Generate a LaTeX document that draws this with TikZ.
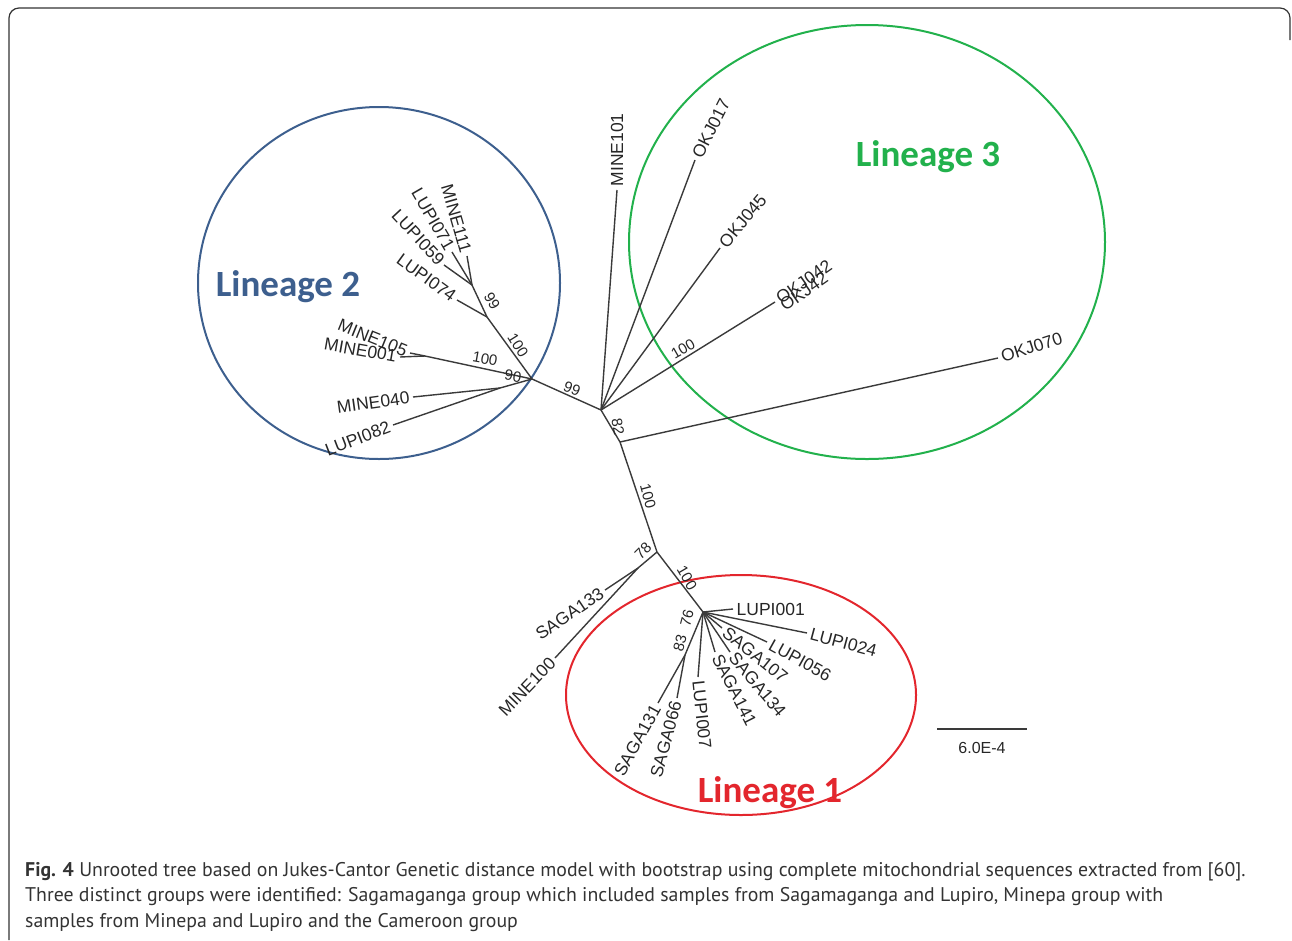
\documentclass[tikz,border=0pt]{standalone}
\usepackage{fontspec}
\setmainfont{Liberation Sans}
\newfontfamily\capfont{PT Sans}
\newfontfamily\linfont{Carlito}
\usetikzlibrary{positioning}
\definecolor{linone}{HTML}{E3262D}
\definecolor{lintwo}{HTML}{3D5F8E}
\definecolor{linthree}{HTML}{22B14C}
\definecolor{branchgray}{HTML}{3A3A3A}

\begin{document}
\begin{tikzpicture}[x = 1pt, y = -1pt,
    tip/.style = {font = \fontsize{17.5}{17.5}\selectfont, text = black!85, inner sep = 3.5pt},
    boot/.style = {font = \fontsize{15}{15}\selectfont, text = black!85, inner sep = 0pt},
    branch/.style = {draw = branchgray, line width = 1.4pt},
    lineage/.style = {font = \linfont\bfseries\fontsize{37}{37}\selectfont},
    ring/.style = {line width = 2pt},
    capline/.style = {anchor = base west, inner sep = 0pt, text = black!80, font = \capfont\fontsize{19.8}{25}\selectfont},
    ]
    \useasboundingbox (0,0) rectangle (1292,940);
    \draw[rounded corners = 10pt, line width = 1.2pt, black!80] (9,940) -- (9,8) -- (1290,8) -- (1290,40);

    % groups
    \draw[ring, lintwo] (379,283) ellipse [x radius = 181pt, y radius = 176pt];
    \draw[ring, linthree] (867,242) ellipse [x radius = 238pt, y radius = 217pt];
    \draw[ring, linone] (741,695) ellipse [x radius = 175pt, y radius = 120pt];
    \node[lineage, text = lintwo] (lin2) at (288,287) {Lineage 2};
    \node[lineage, text = linthree] (lin3) at (928,157) {Lineage 3};
    \node[lineage, text = linone] (lin1) at (770,793) {Lineage 1};

    % internal nodes
    \coordinate (A) at (601,410);
    \coordinate (H) at (620,442);
    \coordinate (K) at (657,552);
    \coordinate (L) at (638,568);
    \coordinate (D) at (703,612);
    \coordinate (I) at (685,655);
    \coordinate (B) at (532,379);
    \coordinate (E) at (487,317);
    \coordinate (G) at (472,285);
    \coordinate (M) at (425,356);
    \coordinate (F) at (500,388);

    % tips, lineage 3
    \node[tip, anchor = west, rotate = 90] (mine101) at (617,190) {MINE101};
    \node[tip, anchor = west, rotate = 63] (okj017) at (695,160) {OKJ017};
    \node[tip, anchor = west, rotate = 50] (okj045) at (720,248) {OKJ045};
    \node[tip, anchor = west, rotate = 35] (okj042) at (775,302) {OKJ042};
    \node[tip, anchor = west, rotate = 35] (okj42) at (779,309) {OKJ42};
    \node[tip, anchor = west, rotate = 18] (okj070) at (998,358) {OKJ070};

    % tips, lineage 2
    \node[tip, anchor = east, rotate = -74] (mine111) at (467,256) {MINE111};
    \node[tip, anchor = east, rotate = -60] (lupi071) at (452,252) {LUPI071};
    \node[tip, anchor = east, rotate = -47] (lupi059) at (444,265) {LUPI059};
    \node[tip, anchor = east, rotate = -36] (lupi074) at (457,300) {LUPI074};
    \node[tip, anchor = east, rotate = -22] (mine105) at (410,353) {MINE105};
    \node[tip, anchor = east, rotate = -10] (mine001) at (400,357) {MINE001};
    \node[tip, anchor = east, rotate = 8] (mine040) at (413,397) {MINE040};
    \node[tip, anchor = east, rotate = 21] (lupi082) at (393,425) {LUPI082};

    % tips, lineage 1 and the rest
    \node[tip, anchor = east, rotate = 34] (saga133) at (605,590) {SAGA133};
    \node[tip, anchor = east, rotate = 46] (mine100) at (555,658) {MINE100};
    \node[tip, anchor = west] (lupi001) at (733,609) {LUPI001};
    \node[tip, anchor = west, rotate = -15] (lupi024) at (807,633) {LUPI024};
    \node[tip, anchor = west, rotate = -29] (lupi056) at (767,642) {LUPI056};
    \node[tip, anchor = west, rotate = -39] (saga107) at (722,628) {SAGA107};
    \node[tip, anchor = west, rotate = -50] (saga134) at (730,652) {SAGA134};
    \node[tip, anchor = west, rotate = -63] (saga141) at (715,652) {SAGA141};
    \node[tip, anchor = west, rotate = -84] (lupi007) at (698,677) {LUPI007};
    \node[tip, anchor = east, rotate = 75] (saga066) at (677,698) {SAGA066};
    \node[tip, anchor = east, rotate = 61] (saga131) at (658,703) {SAGA131};

    % branches
    \draw[branch] (B) -- (A) -- (H) -- (K) -- (D);
    \draw[branch] (A) -- (mine101.west);
    \draw[branch] (A) -- (okj017.west);
    \draw[branch] (A) -- (okj045.west);
    \draw[branch] (A) -- (okj042.west);
    \draw[branch] (H) -- (okj070.west);
    \draw[branch] (B) -- (E) -- (G) -- (mine111.east);
    \draw[branch] (G) -- (lupi071.east);
    \draw[branch] (G) -- (lupi059.east);
    \draw[branch] (E) -- (lupi074.east);
    \draw[branch] (B) -- (M) -- (mine105.east);
    \draw[branch] (M) -- (mine001.east);
    \draw[branch] (B) -- (F) -- (mine040.east);
    \draw[branch] (F) -- (lupi082.east);
    \draw[branch] (K) -- (L) -- (saga133.east);
    \draw[branch] (L) -- (mine100.east);
    \draw[branch] (D) -- (lupi001.west);
    \draw[branch] (D) -- (lupi024.west);
    \draw[branch] (D) -- (lupi056.west);
    \draw[branch] (D) -- (saga107.west);
    \draw[branch] (D) -- (saga134.west);
    \draw[branch] (D) -- (saga141.west);
    \draw[branch] (D) -- (lupi007.west);
    \draw[branch] (D) -- (I) -- (saga066.east);
    \draw[branch] (I) -- (saga131.east);

    % bootstrap values
    \node[boot, rotate = -60] (bE) at (492,301) {99};
    \node[boot, rotate = -58] (bEB) at (518,345) {100};
    \node[boot, rotate = -10] (bM) at (485,359) {100};
    \node[boot, rotate = -10] (bF) at (513,376) {90};
    \node[boot, rotate = -22] (bB) at (572,389) {99};
    \node[boot, rotate = 30] (bO) at (683,349) {100};
    \node[boot, rotate = -80] (bH) at (618,427) {82};
    \node[boot, rotate = -75] (bK) at (648,496) {100};
    \node[boot, rotate = 45] (bL) at (643,551) {78};
    \node[boot, rotate = -60] (bD) at (687,578) {100};
    \node[boot, rotate = 75] (bD2) at (687,618) {76};
    \node[boot, rotate = 75] (bI) at (680,643) {83};

    % scale
    \coordinate (s0) at (937,729);
    \coordinate (s1) at (1027,729);
    \draw[branch] (s0) -- (s1);
    \node[boot, font = \fontsize{16}{16}\selectfont] (scale) at (982,748) {6.0E-4};

    % caption
    \node[capline] (cap1) at (25,876) {\textbf{Fig. 4} Unrooted tree based on Jukes-Cantor Genetic distance model with bootstrap using complete mitochondrial sequences extracted from [60].};
    \node[capline] (cap2) at (25,901) {Three distinct groups were identified: Sagamaganga group which included samples from Sagamaganga and Lupiro, Minepa group with};
    \node[capline] (cap3) at (25,927) {samples from Minepa and Lupiro and the Cameroon group};
\end{tikzpicture}
\end{document}
